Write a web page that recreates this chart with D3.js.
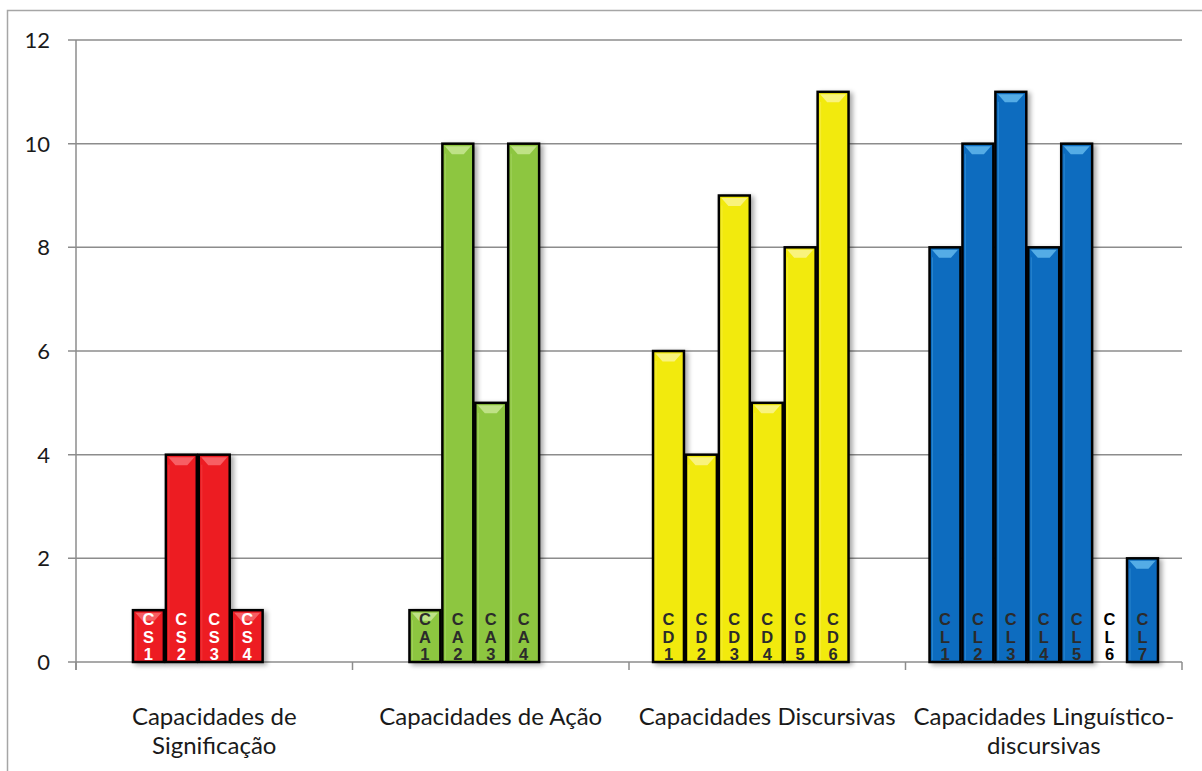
<!DOCTYPE html>
<html>
<head>
<meta charset="utf-8">
<script src="https://cdn.jsdelivr.net/npm/d3@7"></script>
<style>
  html, body { margin: 0; padding: 0; background: #fff; }
  svg { display: block; }
</style>
</head>
<body>
<svg id="chart" width="1202" height="771"></svg>
<script>
// Category groups along the x axis
const categories = [
  ["Capacidades de", "Significação"],
  ["Capacidades de Ação"],
  ["Capacidades Discursivas"],
  ["Capacidades Linguístico-", "discursivas"]
];

// Seven column slots per category; null means the slot is empty
const slots = ["s1", "s2", "s3", "s4", "s5", "s6", "s7"];

const significacao = [null, 1, 4, 4, 1, null, null];
const acao = [null, 1, 10, 5, 10, null, null];
const discursivas = [6, 4, 9, 5, 8, 11, null];
const linguistico = [8, 10, 11, 8, 10, 0, 2];

const significacaoLabels = [null, "CS1", "CS2", "CS3", "CS4", null, null];
const acaoLabels = [null, "CA1", "CA2", "CA3", "CA4", null, null];
const discursivasLabels = ["CD1", "CD2", "CD3", "CD4", "CD5", "CD6", null];
const linguisticoLabels = ["CL1", "CL2", "CL3", "CL4", "CL5", "CL6", "CL7"];

const groupColors = ["#ED1C24", "#8DC63F", "#F2EA0A", "#0F6CBF"];
const groupTops = ["#F7676C", "#C4E48E", "#FAF48A", "#5CB4EA"];
const labelColors = ["#ffffff", "#2b2b2b", "#2b2b2b", "#2b2b2b"];

const yTicks = [0, 2, 4, 6, 8, 10, 12];

const groups = [
  { values: significacao, labels: significacaoLabels },
  { values: acao, labels: acaoLabels },
  { values: discursivas, labels: discursivasLabels },
  { values: linguistico, labels: linguisticoLabels }
];

const svg = d3.select("#chart");
const margin = { left: 76, right: 1182, top: 40, bottom: 662 };
const axisFont = "Lato, 'Open Sans', 'Liberation Sans', sans-serif";

// Outer chart frame
svg.append("rect")
  .attr("x", 7.5).attr("y", 10.5)
  .attr("width", 1200).attr("height", 780)
  .attr("fill", "none").attr("stroke", "#a6a6a6").attr("stroke-width", 1.5);

const x = d3.scaleBand()
  .domain(d3.range(categories.length))
  .range([margin.left, margin.right])
  .paddingInner(0).paddingOuter(0);

const slotScale = d3.scaleBand()
  .domain(slots)
  .range([0, x.bandwidth()])
  .paddingInner(0)
  .paddingOuter(0.7);

const y = d3.scaleLinear().domain([0, 12]).range([margin.bottom, margin.top]);

// Gridlines
svg.append("g").selectAll("line")
  .data(yTicks)
  .join("line")
  .attr("x1", margin.left - 8).attr("x2", margin.right)
  .attr("y1", d => y(d)).attr("y2", d => y(d))
  .attr("stroke", "#8c8c8c").attr("stroke-width", 1.5);

// Y axis line
svg.append("line")
  .attr("x1", margin.left).attr("x2", margin.left)
  .attr("y1", y(12)).attr("y2", margin.bottom + 8)
  .attr("stroke", "#8c8c8c").attr("stroke-width", 1.5);

// Category tick marks
svg.append("g").selectAll("line")
  .data(d3.range(categories.length + 1))
  .join("line")
  .attr("x1", d => margin.left + d * x.bandwidth())
  .attr("x2", d => margin.left + d * x.bandwidth())
  .attr("y1", margin.bottom).attr("y2", margin.bottom + 8)
  .attr("stroke", "#8c8c8c").attr("stroke-width", 1.5);

// Y tick labels
svg.append("g").selectAll("text")
  .data(yTicks)
  .join("text")
  .attr("x", 50).attr("y", d => y(d))
  .attr("dy", "0.36em")
  .attr("text-anchor", "end")
  .attr("font-family", axisFont)
  .attr("font-size", 22)
  .attr("fill", "#1a1a1a")
  .text(d => d);

// Soft shadow for columns
const defs = svg.append("defs");
const f = defs.append("filter").attr("id", "shadow")
  .attr("x", "-20%").attr("y", "-10%").attr("width", "150%").attr("height", "130%");
f.append("feGaussianBlur").attr("in", "SourceAlpha").attr("stdDeviation", 2.5);
f.append("feOffset").attr("dx", 3).attr("dy", 2).attr("result", "b");
f.append("feComponentTransfer").append("feFuncA").attr("type", "linear").attr("slope", 0.35);
const fm = f.append("feMerge");
fm.append("feMergeNode");
fm.append("feMergeNode").attr("in", "SourceGraphic");

// Columns
groups.forEach((g, gi) => {
  const bars = slots.map((s, si) => ({
    slot: s, value: g.values[si], label: g.labels[si], gi
  })).filter(d => d.value !== null);

  const gg = svg.append("g").attr("transform", `translate(${x(gi)},0)`);
  const bw = slotScale.bandwidth();

  const drawn = bars.filter(d => d.value > 0);
  const cols = gg.selectAll("g.col").data(drawn).join("g").attr("class", "col");

  cols.append("rect")
    .attr("x", d => slotScale(d.slot) + 1)
    .attr("y", d => y(d.value))
    .attr("width", bw - 2)
    .attr("height", d => y(0) - y(d.value))
    .attr("fill", groupColors[gi])
    .attr("stroke", "#000")
    .attr("stroke-width", 2.5)
    .attr("filter", "url(#shadow)");

  // Bevel highlight on the column top
  cols.append("path")
    .attr("d", d => {
      const x0 = slotScale(d.slot) + 3.5, x1 = slotScale(d.slot) + bw - 3.5;
      const t = y(d.value) + 2.5;
      const h = Math.min(8, (y(0) - y(d.value)) - 5);
      return `M${x0},${t}L${x1},${t}L${x1 - 7},${t + h}L${x0 + 7},${t + h}Z`;
    })
    .attr("fill", groupTops[gi])
    .attr("opacity", 0.9);

  // Faint inner edge light on the left side
  cols.append("line")
    .attr("x1", d => slotScale(d.slot) + 4)
    .attr("x2", d => slotScale(d.slot) + 4)
    .attr("y1", d => y(d.value) + 10)
    .attr("y2", y(0) - 2)
    .attr("stroke", groupTops[gi]).attr("stroke-opacity", 0.35).attr("stroke-width", 1);

  // Stacked column labels (one character per line)
  const lab = gg.selectAll("text.lab").data(bars).join("text")
    .attr("class", "lab")
    .attr("text-anchor", "middle")
    .attr("font-family", "'Liberation Sans', Arial, sans-serif")
    .attr("font-weight", "bold")
    .attr("font-size", 16.5)
    .attr("fill", d => d.value > 0 ? labelColors[gi] : "#000");
  lab.each(function(d) {
    const chars = d.label.split("");
    const cx = slotScale(d.slot) + bw / 2;
    const n = chars.length;
    d3.select(this).selectAll("tspan").data(chars).join("tspan")
      .attr("x", cx)
      .attr("y", (c, i) => y(0) - 2 - (n - 1 - i) * 17.5)
      .text(c => c);
  });
});

// Category labels
svg.append("g").selectAll("text")
  .data(categories)
  .join("text")
  .attr("text-anchor", "middle")
  .attr("font-family", axisFont)
  .attr("font-size", 24)
  .attr("fill", "#1a1a1a")
  .each(function(lines, i) {
    d3.select(this).selectAll("tspan").data(lines).join("tspan")
      .attr("x", x(i) + x.bandwidth() / 2)
      .attr("y", (l, j) => 725 + j * 29)
      .text(l => l);
  });
</script>
</body>
</html>
